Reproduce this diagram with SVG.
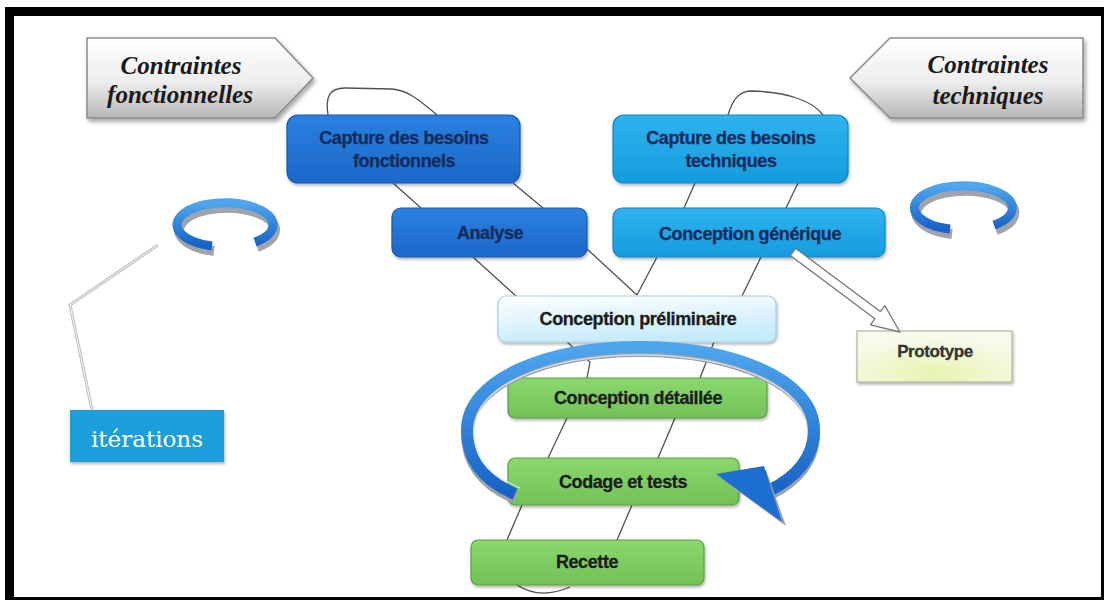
<svg xmlns="http://www.w3.org/2000/svg" width="1105" height="601" viewBox="0 0 1105 601">
<defs>
<style>
.lb{font-family:"Liberation Sans",Arial,sans-serif;font-weight:bold;font-size:18px;text-anchor:middle;letter-spacing:-0.4px;stroke-width:0.3px}
.navy{fill:#132c5c;stroke:#132c5c}
.dark{fill:#1c1c1c;stroke:#1c1c1c}
.ct{font-family:"Liberation Serif","Times New Roman",serif;font-style:italic;font-weight:bold;font-size:25px;fill:#1a1a1a;text-anchor:middle}
.thin{fill:none;stroke:#505050;stroke-width:1.3}
.bd{stroke:#1a5aae;stroke-width:1.2}
.bl{stroke:#1286c4;stroke-width:1.2}
.gr{stroke:#5a9e44;stroke-width:1.2}
</style>
<linearGradient id="gPent" x1="0" y1="0" x2="0" y2="1">
<stop offset="0" stop-color="#ffffff"/><stop offset="0.55" stop-color="#ededed"/><stop offset="1" stop-color="#b5b5b5"/>
</linearGradient>
<linearGradient id="gDark" x1="0" y1="0" x2="0" y2="1">
<stop offset="0" stop-color="#2b80e0"/><stop offset="1" stop-color="#1b68c8"/>
</linearGradient>
<linearGradient id="gLight" x1="0" y1="0" x2="0" y2="1">
<stop offset="0" stop-color="#2fb2ef"/><stop offset="1" stop-color="#159cdc"/>
</linearGradient>
<linearGradient id="gPre" x1="0" y1="0" x2="0.3" y2="1">
<stop offset="0" stop-color="#ffffff"/><stop offset="1" stop-color="#c6ebfb"/>
</linearGradient>
<linearGradient id="gGreen" x1="0" y1="0" x2="0" y2="1">
<stop offset="0" stop-color="#8bd86d"/><stop offset="1" stop-color="#72c258"/>
</linearGradient>
<radialGradient id="gProto" cx="0.5" cy="0.85" r="0.7">
<stop offset="0" stop-color="#e6f4b0"/><stop offset="1" stop-color="#f8faea"/>
</radialGradient>
<linearGradient id="gRing" x1="0" y1="0" x2="0" y2="1">
<stop offset="0" stop-color="#4fa6ee"/><stop offset="1" stop-color="#1662c6"/>
</linearGradient>
<filter id="sh" x="-10%" y="-10%" width="130%" height="140%">
<feDropShadow dx="2" dy="3" stdDeviation="2" flood-color="#000" flood-opacity="0.35"/>
</filter>
<filter id="sh2" x="-10%" y="-10%" width="130%" height="140%">
<feDropShadow dx="1" dy="2" stdDeviation="1.5" flood-color="#000" flood-opacity="0.3"/>
</filter>
</defs>

<!-- frame -->
<rect x="5" y="7" width="1099" height="593" fill="#000"/>
<rect x="14" y="16" width="1087" height="581" fill="#fff"/>

<!-- connectors -->
<g id="connectors">
<path class="thin" d="M328,115 C325,96 330,88 345,88 L392,89 C405,90 415,96 437,115"/>
<path class="thin" d="M393,183 L421,208"/>
<path class="thin" d="M513,183 L543,208"/>
<path class="thin" d="M728,115 C733,98 740,91 752,91 C785,92 812,100 823,115"/>
<path class="thin" d="M695,183 L684,208"/>
<path class="thin" d="M798,183 L786,208"/>
<path class="thin" d="M473,257 L517,297"/>
<path class="thin" d="M587,249 L637,295"/>
<path class="thin" d="M657,257 L637,295"/>
<path class="thin" d="M761,257 L742,296"/>
<path class="thin" d="M567,342 L590,362 L587,378"/>
<path class="thin" d="M714,342 L700,378"/>
<path class="thin" d="M567,418 L548,458"/>
<path class="thin" d="M675,418 L658,458"/>
<path class="thin" d="M522,505 L507,540"/>
<path class="thin" d="M632,505 L617,540"/>
<path class="thin" d="M517,585 Q540,600 570,587"/>
<path d="M92,410 L70,305 L158,245" fill="none" stroke="#c4c4c4" stroke-width="3.2"/>
<path d="M92,410 L70,305 L158,245" fill="none" stroke="#f2f2f2" stroke-width="1"/>
</g>

<!-- constraint arrows -->
<g id="contraintes-fonctionnelles">
<polygon points="87,38 275,38 313,78 275,118 87,118" fill="url(#gPent)" stroke="#8a8a8a" stroke-width="1.5" filter="url(#sh)"/>
<text class="ct" x="181" y="74">Contraintes</text>
<text class="ct" x="180" y="103">fonctionnelles</text>
</g>
<g id="contraintes-techniques">
<polygon points="850,78 890,38 1083,38 1083,118 890,118" fill="url(#gPent)" stroke="#8a8a8a" stroke-width="1.5" filter="url(#sh)"/>
<text class="ct" x="988" y="73">Contraintes</text>
<text class="ct" x="988" y="104">techniques</text>
</g>

<!-- nodes -->
<g id="capture-fonctionnels">
<rect x="287" y="115" width="233" height="68" rx="11" fill="url(#gDark)" class="bd" filter="url(#sh2)"/>
<text class="lb navy" x="404" y="144">Capture des besoins</text>
<text class="lb navy" x="404" y="167">fonctionnels</text>
</g>
<g id="analyse">
<rect x="392" y="208" width="195" height="49" rx="9" fill="url(#gDark)" class="bd" filter="url(#sh2)"/>
<text class="lb navy" x="490" y="239">Analyse</text>
</g>
<g id="capture-techniques">
<rect x="613" y="115" width="235" height="68" rx="11" fill="url(#gLight)" class="bl" filter="url(#sh2)"/>
<text class="lb navy" x="731" y="144">Capture des besoins</text>
<text class="lb navy" x="731" y="167">techniques</text>
</g>
<g id="conception-generique">
<rect x="613" y="208" width="272" height="49" rx="9" fill="url(#gLight)" class="bl" filter="url(#sh2)"/>
<text class="lb navy" x="750" y="240">Conception générique</text>
</g>
<g id="conception-preliminaire">
<rect x="498" y="296" width="278" height="46" rx="8" fill="url(#gPre)" stroke="#a8cfe4" stroke-width="1.2" filter="url(#sh2)"/>
<text class="lb dark" x="638" y="325">Conception préliminaire</text>
</g>
<g id="conception-detaillee">
<rect x="508" y="378" width="259" height="40" rx="7" fill="url(#gGreen)" class="gr" filter="url(#sh2)"/>
<text class="lb dark" x="638" y="404">Conception détaillée</text>
</g>
<g id="codage-tests">
<rect x="508" y="458" width="231" height="47" rx="7" fill="url(#gGreen)" class="gr" filter="url(#sh2)"/>
<text class="lb dark" x="623" y="488">Codage et tests</text>
</g>
<g id="recette">
<rect x="471" y="540" width="233" height="45" rx="7" fill="url(#gGreen)" class="gr" filter="url(#sh2)"/>
<text class="lb dark" x="587" y="568">Recette</text>
</g>
<g id="prototype">
<rect x="857" y="331" width="155" height="51" fill="url(#gProto)" stroke="#b4b49c" stroke-width="1.2" filter="url(#sh2)"/>
<text class="lb" x="935" y="357" style="font-size:17px;fill:#333;stroke:#333">Prototype</text>
</g>
<g id="iterations">
<rect x="70" y="410" width="154" height="52" fill="#1a9edb" filter="url(#sh2)"/>
<text x="147" y="447" style="font-family:'DejaVu Serif',serif;font-size:23px;fill:#fff;text-anchor:middle">itérations</text>
</g>

<!-- hollow arrow to prototype -->
<g id="arrow-prototype">
<polygon points="790.3,255.6 874.9,318.8 870.4,324.8 900,332 884.8,305.6 880.3,311.6 795.7,248.4" fill="#fff" stroke="#777" stroke-width="1.3" stroke-linejoin="round"/>
</g>

<!-- big cycle arrow -->
<g id="cycle-arrow">
<path d="M515,498 C478,482 467,459 467,434 C467,384 545,351 640,351 C735,351 814,384 814,434 C814,462 795,482 770,494" fill="none" stroke="#9aa0a8" stroke-width="12"/>
<path d="M515,494 C478,478 467,455 467,430 C467,380 545,347 640,347 C735,347 814,380 814,430 C814,458 795,478 770,490" fill="none" stroke="url(#gRing)" stroke-width="12"/>
<path d="M520,488 C484,473 474,452 474,430 C474,386 548,355 640,355 C732,355 807,386 807,430" fill="none" stroke="#dfe8f2" stroke-width="1.5" opacity="0.8"/>
<polygon points="720,478 766,470 786,526" fill="#9aa0a8"/>
<polygon points="716,474 764,466 782,522" fill="#1c6fd0"/>
</g>

<!-- small iteration icons -->
<g id="icon-left">
<path d="M214,251 A48,22 0 1 1 257,247" fill="none" stroke="#a0a4aa" stroke-width="10"/>
<path d="M212,246 A48,22 0 1 1 255,242" fill="none" stroke="url(#gRing)" stroke-width="9"/>
</g>
<g id="icon-right">
<path d="M952,234 A49,22 0 1 1 996,230" fill="none" stroke="#a0a4aa" stroke-width="10"/>
<path d="M950,229 A49,22 0 1 1 994,225" fill="none" stroke="url(#gRing)" stroke-width="9"/>
</g>
</svg>
